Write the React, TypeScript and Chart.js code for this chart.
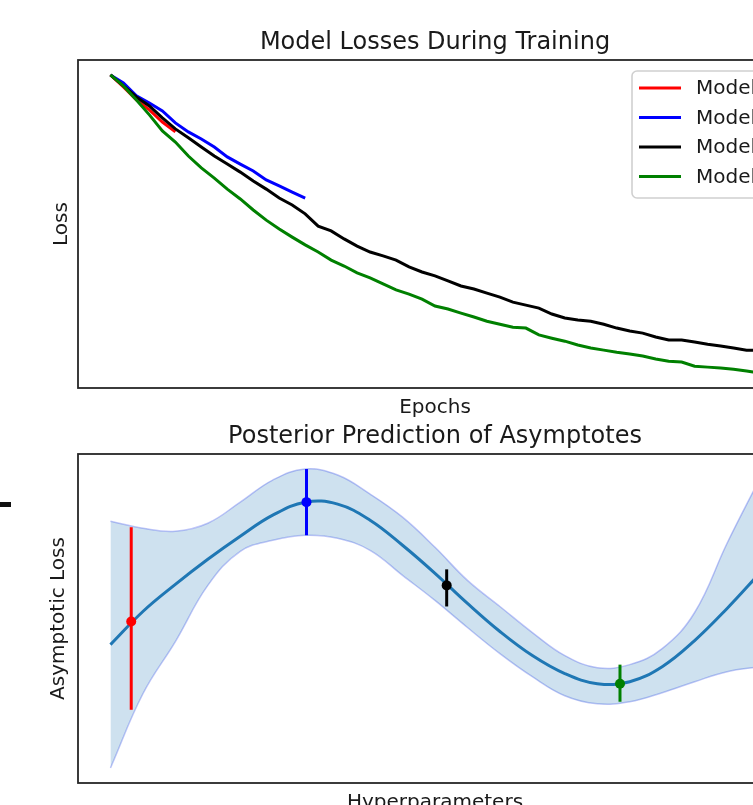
import React, { useEffect, useRef } from "react";
import { Chart, registerables } from "chart.js";

Chart.register(...registerables);

const FONT = '"DejaVu Sans", "Liberation Sans", sans-serif';

// ---------- Top chart: training losses ----------
const MODEL_NAMES = ["Model 1", "Model 2", "Model 3", "Model 4"];
const MODEL_COLORS = ["#ff0000", "#0000ff", "#000000", "#008000"];

const EPOCHS_M1 = [0, 2, 4, 6, 8, 10];
const LOSS_M1 = [1.0, 0.96, 0.916, 0.883, 0.842, 0.809];

const EPOCHS_M2 = [0, 2, 4, 6, 8, 10, 12, 14, 16, 18, 20, 22, 24, 26, 28, 30];
const LOSS_M2 = [1.0, 0.973, 0.93, 0.906, 0.879, 0.839, 0.809, 0.785, 0.758, 0.725, 0.701, 0.678, 0.648, 0.628, 0.607, 0.587];

const EPOCHS_FULL = [
  0, 2, 4, 6, 8, 10, 12, 14, 16, 18, 20, 22, 24, 26, 28, 30, 32, 34, 36, 38, 40,
  42, 44, 46, 48, 50, 52, 54, 56, 58, 60, 62, 64, 66, 68, 70, 72, 74, 76, 78, 80,
  82, 84, 86, 88, 90, 92, 94, 96, 98, 100,
];
const LOSS_M3 = [
  1.0, 0.963, 0.926, 0.896, 0.856, 0.819, 0.789, 0.758, 0.728, 0.701, 0.674,
  0.644, 0.617, 0.587, 0.564, 0.534, 0.493, 0.477, 0.45, 0.426, 0.406,
  0.393, 0.379, 0.356, 0.339, 0.326, 0.309, 0.292, 0.282, 0.268, 0.255,
  0.238, 0.228, 0.218, 0.198, 0.185, 0.178, 0.174, 0.164, 0.151, 0.141,
  0.134, 0.121, 0.111, 0.111, 0.104, 0.097, 0.091, 0.084, 0.077, 0.077,
];
const LOSS_M4 = [
  1.0, 0.963, 0.916, 0.866, 0.812, 0.775, 0.728, 0.688, 0.654, 0.617, 0.584,
  0.547, 0.513, 0.483, 0.456, 0.43, 0.406, 0.379, 0.359, 0.336, 0.319,
  0.299, 0.279, 0.265, 0.248, 0.225, 0.215, 0.201, 0.188, 0.174, 0.164,
  0.154, 0.151, 0.128, 0.117, 0.107, 0.094, 0.084, 0.077, 0.07, 0.064,
  0.057, 0.047, 0.04, 0.037, 0.023, 0.02, 0.017, 0.013, 0.007, 0.0,
];

// ---------- Bottom chart: posterior prediction ----------
const HYPER = [0, 0.5, 1, 1.5, 2, 2.5, 3, 3.5, 4, 4.5, 5, 5.5, 6, 6.5, 7, 7.5, 8, 8.5, 9, 9.5, 10];
const POST_MEAN = [1.23, 1.56, 1.83, 2.08, 2.31, 2.52, 2.65, 2.63, 2.47, 2.22, 1.94, 1.64, 1.36, 1.12, 0.94, 0.84, 0.86, 1.01, 1.27, 1.59, 1.94];
const POST_UPPER = [2.46, 2.39, 2.36, 2.44, 2.65, 2.87, 2.98, 2.92, 2.73, 2.5, 2.2, 1.87, 1.61, 1.35, 1.12, 1.0, 1.03, 1.19, 1.55, 2.24, 2.88];
const POST_LOWER = [0.0, 0.74, 1.26, 1.82, 2.16, 2.27, 2.32, 2.29, 2.17, 1.92, 1.67, 1.4, 1.14, 0.91, 0.72, 0.64, 0.66, 0.75, 0.86, 0.96, 1.01];

const OBS_X = [0.32, 3.02, 5.18, 7.85];
const OBS_Y = [1.46, 2.65, 1.82, 0.84];
const OBS_LO = [0.58, 2.32, 1.61, 0.66];
const OBS_HI = [2.4, 2.98, 1.98, 1.03];
const OBS_COLORS = ["#ff0000", "#0000ff", "#000000", "#008000"];

const zip = (xs: number[], ys: number[]) => xs.map((x, i) => ({ x, y: ys[i] }));

type FrameCfg = {
  id: string;
  title: string;
  titleY: number;
  xLabel: string;
  xLabelY: number;
  yLabel: string;
  yLabelX: number;
  legend?: boolean;
};

function framePlugin(cfg: FrameCfg) {
  return {
    id: "frame_" + cfg.id,
    afterDraw(chart: any) {
      const ctx = chart.ctx as CanvasRenderingContext2D;
      const a = chart.chartArea;
      ctx.save();
      ctx.strokeStyle = "#262626";
      ctx.lineWidth = 1.8;
      ctx.strokeRect(a.left, a.top, a.right - a.left, a.bottom - a.top);
      const cx = (a.left + a.right) / 2;
      ctx.fillStyle = "#1a1a1a";
      ctx.textAlign = "center";
      ctx.textBaseline = "alphabetic";
      ctx.font = `24px ${FONT}`;
      ctx.fillText(cfg.title, cx, cfg.titleY);
      ctx.font = `20px ${FONT}`;
      ctx.fillText(cfg.xLabel, cx, cfg.xLabelY);
      ctx.save();
      ctx.translate(cfg.yLabelX, (a.top + a.bottom) / 2);
      ctx.rotate(-Math.PI / 2);
      ctx.fillText(cfg.yLabel, 0, 0);
      ctx.restore();

      if (cfg.legend) {
        const ds = chart.data.datasets;
        const w = 150;
        const rowH = 29.5;
        const h = 127;
        const left = a.right - 10 - w;
        const top = a.top + 11;
        ctx.fillStyle = "rgba(255,255,255,0.85)";
        ctx.strokeStyle = "#d0d0d0";
        ctx.lineWidth = 1.6;
        ctx.beginPath();
        if ((ctx as any).roundRect) (ctx as any).roundRect(left, top, w, h, 5);
        else ctx.rect(left, top, w, h);
        ctx.fill();
        ctx.stroke();
        ctx.font = `20px ${FONT}`;
        ctx.textAlign = "left";
        ctx.textBaseline = "middle";
        for (let i = 0; i < ds.length; i++) {
          const y = top + 17 + i * rowH;
          ctx.strokeStyle = ds[i].borderColor;
          ctx.lineWidth = 3;
          ctx.beginPath();
          ctx.moveTo(left + 7, y);
          ctx.lineTo(left + 49, y);
          ctx.stroke();
          ctx.fillStyle = "#1a1a1a";
          ctx.fillText(ds[i].label, left + 64, y + 1);
        }
      }
      ctx.restore();
    },
  };
}

const hiddenScales = (xmin: number, xmax: number, ymin: number, ymax: number) => ({
  x: { type: "linear" as const, display: false, min: xmin, max: xmax },
  y: { type: "linear" as const, display: false, min: ymin, max: ymax },
});

export default function App() {
  const topRef = useRef<HTMLCanvasElement>(null);
  const botRef = useRef<HTMLCanvasElement>(null);

  useEffect(() => {
    const lossSeries = [
      zip(EPOCHS_M1, LOSS_M1),
      zip(EPOCHS_M2, LOSS_M2),
      zip(EPOCHS_FULL, LOSS_M3),
      zip(EPOCHS_FULL, LOSS_M4),
    ];
    const top = new Chart(topRef.current!, {
      type: "line",
      data: {
        datasets: lossSeries.map((d, i) => ({
          label: MODEL_NAMES[i],
          data: d,
          borderColor: MODEL_COLORS[i],
          backgroundColor: MODEL_COLORS[i],
          borderWidth: 3,
          pointRadius: 0,
          tension: 0,
          fill: false,
          order: 10 - i,
        })),
      },
      options: {
        responsive: false,
        animation: false,
        devicePixelRatio: 1,
        layout: { padding: { left: 78, top: 60, right: 38, bottom: 32 } },
        scales: hiddenScales(-5, 105, -0.05, 1.05),
        plugins: { legend: { display: false }, title: { display: false }, tooltip: { enabled: false } },
      },
      plugins: [
        framePlugin({
          id: "top",
          title: "Model Losses During Training",
          titleY: 49,
          xLabel: "Epochs",
          xLabelY: 413,
          yLabel: "Loss",
          yLabelX: 67,
          legend: true,
        }),
      ],
    });

    const errorBars = OBS_X.map((x, i) => ({
      label: "err" + i,
      data: [
        { x, y: OBS_LO[i] },
        { x, y: OBS_HI[i] },
      ],
      borderColor: OBS_COLORS[i],
      backgroundColor: OBS_COLORS[i],
      borderWidth: 3,
      pointRadius: 0,
      fill: false,
      order: 1,
    }));
    const markers = OBS_X.map((x, i) => ({
      label: "obs" + i,
      data: [{ x, y: OBS_Y[i] }],
      showLine: false,
      borderColor: OBS_COLORS[i],
      backgroundColor: OBS_COLORS[i],
      pointRadius: 5,
      pointBorderWidth: 0,
      fill: false,
      order: 0,
    }));

    const bot = new Chart(botRef.current!, {
      type: "line",
      data: {
        datasets: [
          ...markers,
          ...errorBars,
          {
            label: "mean",
            data: zip(HYPER, POST_MEAN),
            borderColor: "#1f77b4",
            borderWidth: 3,
            pointRadius: 0,
            tension: 0.4,
            fill: false,
            order: 2,
          },
          {
            label: "upper",
            data: zip(HYPER, POST_UPPER),
            borderColor: "rgba(70,90,235,0.35)",
            backgroundColor: "rgba(31,119,180,0.22)",
            borderWidth: 1.5,
            pointRadius: 0,
            tension: 0.4,
            fill: "+1",
            order: 3,
          },
          {
            label: "lower",
            data: zip(HYPER, POST_LOWER),
            borderColor: "rgba(70,90,235,0.35)",
            borderWidth: 1.5,
            pointRadius: 0,
            tension: 0.4,
            fill: false,
            order: 3,
          },
        ] as any,
      },
      options: {
        responsive: false,
        animation: false,
        devicePixelRatio: 1,
        layout: { padding: { left: 78, top: 39, right: 38, bottom: 32 } },
        scales: hiddenScales(-0.5, 10.5, -0.15, 3.13),
        plugins: { legend: { display: false }, title: { display: false }, tooltip: { enabled: false } },
      },
      plugins: [
        framePlugin({
          id: "bot",
          title: "Posterior Prediction of Asymptotes",
          titleY: 28,
          xLabel: "Hyperparameters",
          xLabelY: 393,
          yLabel: "Asymptotic Loss",
          yLabelX: 64,
        }),
      ],
    });

    return () => {
      top.destroy();
      bot.destroy();
    };
  }, []);

  return (
    <div
      style={{
        position: "absolute",
        left: 0,
        top: 0,
        width: 753,
        height: 805,
        overflow: "hidden",
        background: "#fff",
      }}
    >
      <canvas
        ref={topRef}
        width={830}
        height={420}
        style={{ position: "absolute", left: 0, top: 0, display: "block" }}
      />
      <canvas
        ref={botRef}
        width={830}
        height={400}
        style={{ position: "absolute", left: 0, top: 415, display: "block" }}
      />
      <div style={{ position: "absolute", left: 0, top: 502, width: 11, height: 5, background: "#111" }} />
    </div>
  );
}
